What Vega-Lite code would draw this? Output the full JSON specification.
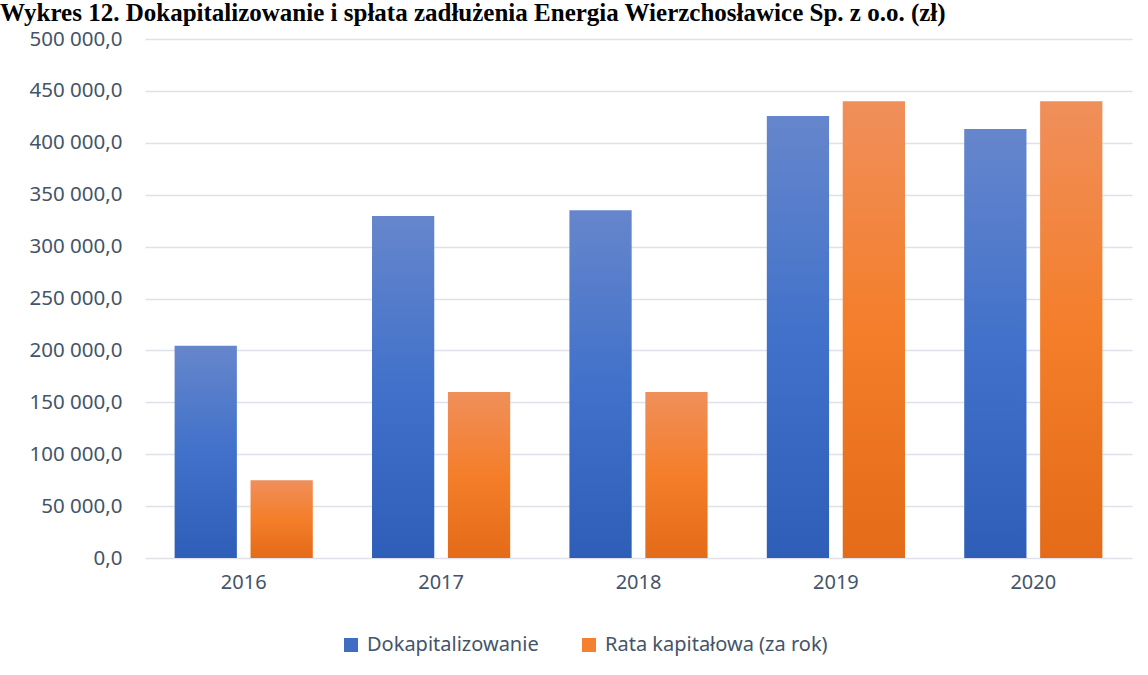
{
  "$schema": "https://vega.github.io/schema/vega-lite/v6.json",
  "width": 987,
  "height": 519,
  "autosize": {"type": "none"},
  "padding": {"left": 145, "top": 39, "right": 16, "bottom": 117},
  "background": "white",
  "title": {
    "text": "Wykres 12. Dokapitalizowanie i spłata zadłużenia Energia Wierzchosławice Sp. z o.o. (zł)",
    "anchor": "start",
    "frame": "group",
    "dx": -145,
    "offset": 3,
    "font": "Liberation Serif",
    "fontSize": 25,
    "fontWeight": "bold",
    "color": "#000000"
  },
  "data": {
    "values": [
      {"year": "2016", "series": "Dokapitalizowanie", "value": 204500},
      {"year": "2016", "series": "Rata kapitałowa (za rok)", "value": 75000},
      {"year": "2017", "series": "Dokapitalizowanie", "value": 329500},
      {"year": "2017", "series": "Rata kapitałowa (za rok)", "value": 160000},
      {"year": "2018", "series": "Dokapitalizowanie", "value": 335000},
      {"year": "2018", "series": "Rata kapitałowa (za rok)", "value": 160000},
      {"year": "2019", "series": "Dokapitalizowanie", "value": 425800},
      {"year": "2019", "series": "Rata kapitałowa (za rok)", "value": 440000},
      {"year": "2020", "series": "Dokapitalizowanie", "value": 413300},
      {"year": "2020", "series": "Rata kapitałowa (za rok)", "value": 440000}
    ]
  },
  "encoding": {
    "x": {
      "field": "year",
      "type": "nominal",
      "scale": {"paddingInner": 0.3, "paddingOuter": 0.15},
      "axis": {
        "title": null,
        "labelAngle": 0,
        "domain": false,
        "ticks": false,
        "labelPadding": 14,
        "labelFont": "Noto Sans",
        "labelFontSize": 20,
        "labelColor": "#44546A"
      }
    },
    "xOffset": {
      "field": "series",
      "type": "nominal",
      "scale": {"paddingInner": 0.18, "paddingOuter": 0}
    },
    "y": {
      "field": "value",
      "type": "quantitative",
      "scale": {"domain": [0, 500000], "nice": false},
      "axis": {
        "title": null,
        "values": [0, 50000, 100000, 150000, 200000, 250000, 300000, 350000, 400000, 450000, 500000],
        "format": ",.1f",
        "domain": false,
        "ticks": false,
        "labelPadding": 23,
        "labelFont": "Noto Sans",
        "labelFontSize": 20.5,
        "labelColor": "#44546A",
        "gridColor": "#DEE2E8",
        "gridWidth": 1.5
      }
    }
  },
  "layer": [
    {
      "mark": {"type": "bar", "opacity": 0},
      "encoding": {
        "color": {
          "field": "series",
          "type": "nominal",
          "scale": {"range": ["#3F6DC4", "#F4812F"]},
          "legend": {
            "title": null,
            "orient": "none",
            "direction": "horizontal",
            "legendX": 196,
            "legendY": 596,
            "symbolType": "square",
            "symbolSize": 196,
            "symbolOpacity": 1,
            "symbolStrokeWidth": 0,
            "labelFont": "Noto Sans",
            "labelFontSize": 20,
            "labelColor": "#44546A",
            "labelOffset": 6,
            "labelLimit": 0,
            "columnPadding": 40
          }
        }
      }
    },
    {
      "transform": [{"filter": "datum.series === 'Dokapitalizowanie'"}],
      "mark": {
        "type": "bar",
        "fill": {
          "gradient": "linear",
          "x1": 0, "y1": 0, "x2": 0, "y2": 1,
          "stops": [
            {"offset": 0, "color": "#6686CC"},
            {"offset": 0.5, "color": "#4171CA"},
            {"offset": 1, "color": "#2E5EB7"}
          ]
        }
      }
    },
    {
      "transform": [{"filter": "datum.series === 'Rata kapitałowa (za rok)'"}],
      "mark": {
        "type": "bar",
        "fill": {
          "gradient": "linear",
          "x1": 0, "y1": 0, "x2": 0, "y2": 1,
          "stops": [
            {"offset": 0, "color": "#F08F5B"},
            {"offset": 0.5, "color": "#F47E2A"},
            {"offset": 1, "color": "#E46B18"}
          ]
        }
      }
    }
  ],
  "config": {
    "view": {"stroke": null},
    "locale": {
      "number": {"decimal": ",", "thousands": " ", "grouping": [3], "currency": ["", ""]}
    }
  }
}
